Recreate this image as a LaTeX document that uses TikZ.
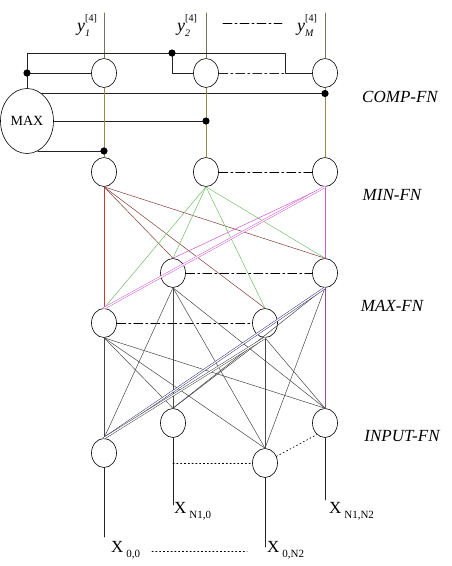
\documentclass[tikz,border=0pt]{standalone}
\usepackage{fontspec}
\setmainfont{Liberation Serif}
\usetikzlibrary{shapes.geometric}
\definecolor{wirec}{RGB}{35,35,35}
\definecolor{colc}{RGB}{150,140,70}
\definecolor{outc}{RGB}{110,120,90}
\definecolor{mina}{RGB}{130,60,55}
\definecolor{minr}{RGB}{200,60,50}
\definecolor{minb}{RGB}{110,190,100}
\definecolor{minc}{RGB}{205,90,205}
\definecolor{maxk}{RGB}{70,70,70}
\definecolor{maxb}{RGB}{50,50,125}
\definecolor{maxp}{RGB}{140,80,140}
\newcommand{\ylab}[1]{\textit{y}\rlap{\raisebox{-0.3em}{\fontsize{10}{10}\selectfont\itshape #1}}\raisebox{0.55em}{\fontsize{10}{10}\selectfont[4]}}
\newcommand{\xlab}[1]{X\,\raisebox{-0.35em}{\fontsize{11}{11}\selectfont #1}}
\begin{document}
\begin{tikzpicture}[x=1pt,y=-1pt,line join=round,line cap=round,
	neuron/.style={draw,ellipse,minimum width=25pt,minimum height=29pt,inner sep=0pt,line width=0.6pt},
	dashdot/.style={dash pattern=on 9pt off 3pt on 2pt off 3pt},
	dotline/.style={dash pattern=on 1.2pt off 2.6pt,line width=0.7pt},
	layer/.style={font=\fontsize{17}{17}\selectfont\itshape},
	edge/.style={line width=0.5pt}]
	\useasboundingbox (0,0) rectangle (452,566);
	% layers of neurons
	\foreach \n/\x in {1/104,2/206,3/325}{
		\node[neuron] (c\n) at (\x,73) {};
		\node[neuron] (m\n) at (\x,172) {};
	}
	\foreach \n/\x/\y in {1/173/273,2/325/273,3/104/323,4/265/323}{\node[neuron] (a\n) at (\x,\y) {};}
	\foreach \n/\x/\y in {1/173/423,2/325/423,3/104/453,4/265/463}{\node[neuron] (i\n) at (\x,\y) {};}
	\node[draw,ellipse,minimum width=53pt,minimum height=65pt,inner sep=0pt,line width=0.6pt,font=\fontsize{14}{14}\selectfont] (mx) at (27,121) {MAX};
	% layer names
	\node[layer] (lcomp) at (400,97) {COMP-FN};
	\node[layer] (lmin) at (392,195) {MIN-FN};
	\node[layer] (lmax) at (392,306) {MAX-FN};
	\node[layer] (linput) at (402,436) {INPUT-FN};
	% outputs
	\foreach \n/\x in {1/77,2/177,3/297}{\coordinate (o\n) at (c\n.north |- 0,13);}
	\node[anchor=base west,inner sep=0pt,font=\fontsize{18}{18}\selectfont] (y1) at (77,31) {\ylab{1}};
	\node[anchor=base west,inner sep=0pt,font=\fontsize{18}{18}\selectfont] (y2) at (177,31) {\ylab{2}};
	\node[anchor=base west,inner sep=0pt,font=\fontsize{18}{18}\selectfont] (y3) at (297,31) {\ylab{M}};
	\coordinate (dd1) at (223,23);
	\coordinate (dd2) at (282,23);
	\draw[dashdot,line width=0.7pt] (dd1) -- (dd2);
	\foreach \n in {1,2,3}{\draw[outc,line width=0.6pt] (c\n.north) -- (o\n);}
	% comparison wiring
	\coordinate (t1) at (27,53);
	\coordinate (t2) at (285,53);
	\coordinate (t3) at (285,73);
	\coordinate (j1) at (27,73);
	\coordinate (j2) at (172,53);
	\coordinate (j3) at (mx.62 -| c3);
	\coordinate (j4) at (mx.east -| c2);
	\coordinate (j5) at (mx.-70 -| c1);
	\begin{scope}[wirec,line width=0.8pt]
		\draw (mx.north) -- (t1) -- (t2) -- (t3) -- (c3.west);
		\draw (j1) -- (c1.west);
		\draw (j2) -- (j2 |- c2) -- (c2.west);
		\draw[dashdot] (c2.east) -- (t3);
		\draw (mx.62) -- (j3);
		\draw (mx.east) -- (j4);
		\draw (mx.-70) -- (j5);
	\end{scope}
	\foreach \n in {1,2,3}{\draw[colc,line width=0.6pt] (c\n.south) -- (m\n.north);}
	\draw[dashdot,line width=0.7pt] (m2.east) -- (m3.west);
	% min to max
	\draw[edge,minr] (m1.south) -- (a3.north);
	\foreach \t in {a1,a2,a4}{\draw[edge,mina] (m1.south) -- (\t.north);}
	\foreach \t in {a1,a2,a3,a4}{\draw[edge,minb] (m2.south) -- (\t.north);}
	\foreach \t in {a1,a2}{\draw[edge,minc] (m3.south) -- (\t.north);}
	\draw[edge,minc,double=white,double distance=1.2pt] (m3.south) -- (a3.north);
	\draw[dashdot,line width=0.7pt] (a1.east) -- (a2.west);
	\draw[dashdot,line width=0.7pt] (a3.east) -- (a4.west);
	% max to input
	\foreach \s in {a1,a3}{
		\foreach \t in {i1,i2,i3,i4}{\draw[edge,maxk] (\s.south) -- (\t.north);}
	}
	\foreach \t in {i1,i4}{\draw[edge,maxk] (a2.south) -- (\t.north);}
	\draw[edge,maxp] (a2.south) -- (i2.north);
	\draw[edge,maxb,double=white,double distance=1.2pt] (a2.south) -- (i3.north);
	\foreach \t in {i1,i2,i4}{\draw[edge,maxk] (a4.south) -- (\t.north);}
	\draw[edge,maxk,double=white,double distance=1.2pt] (a4.south) -- (i3.north);
	% inputs
	\node[anchor=base west,inner sep=0pt,font=\fontsize{17}{17}\selectfont] (x1) at (111,552) {\xlab{0,0}};
	\node[anchor=base west,inner sep=0pt,font=\fontsize{17}{17}\selectfont] (x2) at (174,513) {\xlab{N1,0}};
	\node[anchor=base west,inner sep=0pt,font=\fontsize{17}{17}\selectfont] (x3) at (267,552) {\xlab{0,N2}};
	\node[anchor=base west,inner sep=0pt,font=\fontsize{17}{17}\selectfont] (x4) at (329,513) {\xlab{N1,N2}};
	\coordinate (e1) at (173,505);
	\coordinate (e2) at (325,500);
	\coordinate (e3) at (104,537);
	\coordinate (e4) at (265,547);
	\foreach \n in {1,2,3,4}{\draw[wirec,line width=0.7pt] (i\n.south) -- (e\n);}
	\draw[dotline] (i4.west -| i1) -- (i4.west);
	\draw[dotline] (i4.30) -- (i2.-125);
	\coordinate (dx1) at (152,551);
	\coordinate (dx2) at (247,551);
	\draw[dotline] (dx1) -- (dx2);
	% junction dots
	\foreach \j in {j1,j2,j3,j4,j5}{\fill[black] (\j) circle (3.6pt);}
\end{tikzpicture}
\end{document}
